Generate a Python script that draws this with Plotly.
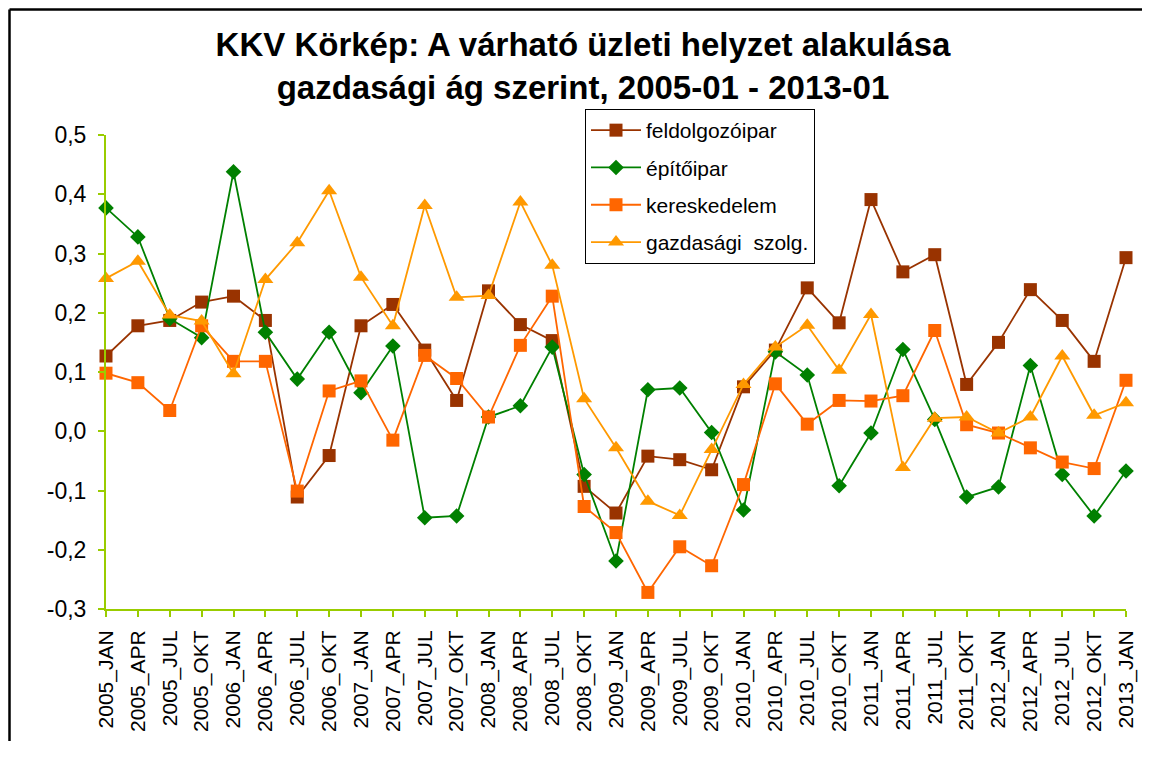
import plotly.graph_objects as go

categories = [
    "2005_JAN", "2005_APR", "2005_JUL", "2005_OKT",
    "2006_JAN", "2006_APR", "2006_JUL", "2006_OKT",
    "2007_JAN", "2007_APR", "2007_JUL", "2007_OKT",
    "2008_JAN", "2008_APR", "2008_JUL", "2008_OKT",
    "2009_JAN", "2009_APR", "2009_JUL", "2009_OKT",
    "2010_JAN", "2010_APR", "2010_JUL", "2010_OKT",
    "2011_JAN", "2011_APR", "2011_JUL", "2011_OKT",
    "2012_JAN", "2012_APR", "2012_JUL", "2012_OKT",
    "2013_JAN",
]

feldolgozoipar = [
    0.127, 0.178, 0.187, 0.218, 0.228, 0.187, -0.111, -0.041,
    0.178, 0.214, 0.137, 0.052, 0.237, 0.180, 0.153, -0.093,
    -0.138, -0.042, -0.048, -0.065, 0.075, 0.137, 0.242, 0.183,
    0.391, 0.269, 0.298, 0.079, 0.150, 0.239, 0.187, 0.118,
    0.293,
]

epitoipar = [
    0.377, 0.328, 0.190, 0.158, 0.438, 0.167, 0.088, 0.167,
    0.065, 0.144, -0.146, -0.143, 0.024, 0.043, 0.142, -0.073,
    -0.219, 0.070, 0.073, -0.002, -0.133, 0.134, 0.095, -0.092,
    -0.003, 0.138, 0.020, -0.111, -0.094, 0.111, -0.073, -0.143,
    -0.067,
]

kereskedelem = [
    0.098, 0.082, 0.035, 0.178, 0.118, 0.118, -0.101, 0.068,
    0.085, -0.015, 0.128, 0.089, 0.024, 0.145, 0.228, -0.127,
    -0.171, -0.272, -0.195, -0.227, -0.090, 0.080, 0.012, 0.052,
    0.051, 0.060, 0.170, 0.011, -0.003, -0.028, -0.052, -0.063,
    0.086,
]

gazdasagi_szolg = [
    0.258, 0.287, 0.196, 0.186, 0.097, 0.256, 0.318, 0.406,
    0.260, 0.178, 0.381, 0.226, 0.229, 0.387, 0.280, 0.055,
    -0.028, -0.118, -0.142, -0.031, 0.079, 0.142, 0.179, 0.103,
    0.197, -0.061, 0.022, 0.024, -0.003, 0.024, 0.127, 0.027,
    0.048,
]

series_names = ["feldolgozóipar", "építőipar", "kereskedelem", "gazdasági  szolg."]

y_tick_vals = [-0.3, -0.2, -0.1, 0.0, 0.1, 0.2, 0.3, 0.4, 0.5]
y_tick_text = ["-0,3", "-0,2", "-0,1", "0,0", "0,1", "0,2", "0,3", "0,4", "0,5"]

title_lines = ["KKV Körkép: A várható üzleti helyzet alakulása",
               "gazdasági ág szerint, 2005-01 - 2013-01"]

OFF = 8  # page body margin offset
SCREEN_W, SCREEN_H = 1150, 757
W, H = SCREEN_W - 2 * OFF, SCREEN_H - 3 * OFF
# target screen positions of plot area
SX0, SX1, SY0, SY1 = 106, 1126, 135, 609
L = SX0 - OFF
T = SY0 - OFF
R = W - (SX1 - OFF)
B = H - (SY1 - OFF)
PW, PH = W - L - R, H - T - B

styles = [
    dict(color="#993300", symbol="square", size=13),
    dict(color="#008000", symbol="diamond", size=12),
    dict(color="#FF6600", symbol="square", size=13),
    dict(color="#FF9900", symbol="triangle-up", size=14),
]
data = [feldolgozoipar, epitoipar, kereskedelem, gazdasagi_szolg]

fig = go.Figure()
for i, (name, vals, st) in enumerate(zip(series_names, data, styles)):
    fig.add_trace(go.Scatter(
        x=categories, y=vals, name=name, mode="lines+markers",
        line=dict(color=st["color"], width=1.8),
        marker=dict(color=st["color"], symbol=st["symbol"], size=st["size"],
                    line=dict(width=0)),
        cliponaxis=False, legendgroup=f"g{i}",
    ))

def px_x(sx):
    return (sx - OFF - L) / PW

def px_y(sy):
    return (H - B - (sy - OFF)) / PH

axis_col = "#99CC00"
font_family = "Arial, Liberation Sans, sans-serif"

fig.update_layout(
    width=W, height=H,
    margin=dict(l=L, r=R, t=T, b=B, autoexpand=False),
    paper_bgcolor="white", plot_bgcolor="white",
    font=dict(family=font_family, color="black"),
    title=dict(text="<b>" + "<br>".join(title_lines) + "</b>",
               font=dict(size=33, family=font_family, color="black"),
               x=(583 - OFF) / W, xanchor="center", xref="container",
               y=1 - 48 / H, yanchor="top", yref="container"),
    showlegend=True,
    legend=dict(x=px_x(585), y=px_y(109), xanchor="left", yanchor="top",
                bgcolor="white", bordercolor="black", borderwidth=1,
                font=dict(size=21, family=font_family, color="black"),
                tracegroupgap=7, itemwidth=50),
    xaxis=dict(type="category", range=[0, len(categories) - 1],
               automargin=False,
               showline=True, linecolor=axis_col, linewidth=2,
               ticks="outside", ticklen=6, tickcolor=axis_col, tickwidth=2,
               tickangle=-90, showgrid=False, zeroline=False,
               ticklabelstandoff=5,
               tickfont=dict(size=21, family=font_family, color="black")),
    yaxis=dict(range=[-0.3, 0.5], tickvals=y_tick_vals, ticktext=y_tick_text,
               automargin=False,
               showline=True, linecolor=axis_col, linewidth=2,
               ticks="outside", ticklen=6, tickcolor=axis_col, tickwidth=2,
               showgrid=False, zeroline=False, ticklabelstandoff=7,
               tickfont=dict(size=23, family=font_family, color="black")),
    shapes=[
        dict(type="line", xref="paper", yref="paper",
             x0=px_x(OFF + 1.5), x1=px_x(OFF + 1.5), y0=px_y(OFF + 1.5), y1=px_y(800),
             line=dict(color="black", width=2.5)),
        dict(type="line", xref="paper", yref="paper",
             x0=px_x(OFF + 1.5), x1=px_x(1200), y0=px_y(OFF + 1.5), y1=px_y(OFF + 1.5),
             line=dict(color="black", width=2.5)),
    ],
)

fig.write_html("out.html")
